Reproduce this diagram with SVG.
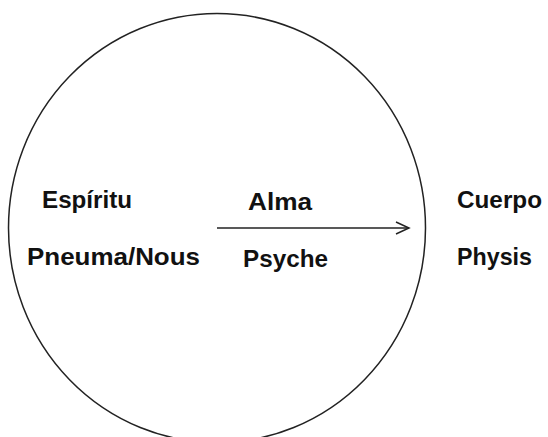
<svg xmlns="http://www.w3.org/2000/svg" width="548" height="437" viewBox="0 0 548 437">
<style>
  .lbl { font-family: "Liberation Sans", Arial, sans-serif; font-weight: bold; font-size: 24px; fill: #111; }
  .line { fill: none; stroke: #222; stroke-width: 1.5; }
</style>
<rect width="548" height="437" fill="#fff"/>
<g id="circle">
  <ellipse class="line" cx="217" cy="228" rx="208.5" ry="214.5"/>
</g>
<g id="espiritu"><text class="lbl" x="42" y="208" textLength="90" lengthAdjust="spacingAndGlyphs">Espíritu</text><text class="lbl" x="27" y="265" textLength="173" lengthAdjust="spacingAndGlyphs">Pneuma/Nous</text></g>
<g id="alma"><text class="lbl" x="248" y="210" textLength="64" lengthAdjust="spacingAndGlyphs">Alma</text><text class="lbl" x="243" y="267" textLength="85" lengthAdjust="spacingAndGlyphs">Psyche</text></g>
<g id="cuerpo"><text class="lbl" x="457" y="208" textLength="85" lengthAdjust="spacingAndGlyphs">Cuerpo</text><text class="lbl" x="457" y="265" textLength="75" lengthAdjust="spacingAndGlyphs">Physis</text></g>
<g id="connectors">
  <line class="line" x1="217" y1="228" x2="409" y2="228"/>
  <polyline class="line" points="396,222 409,228 396,234"/>
</g>
</svg>
